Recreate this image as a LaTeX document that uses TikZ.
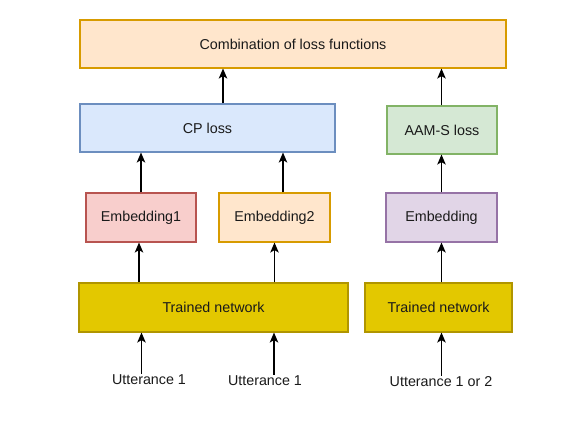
\documentclass[tikz,border=0pt]{standalone}
\usepackage{fontspec}
\setmainfont{Liberation Sans}
\usetikzlibrary{arrows.meta}
\definecolor{orfill}{HTML}{FFE6CC}\definecolor{ordraw}{HTML}{D79B00}
\definecolor{blfill}{HTML}{DAE8FC}\definecolor{bldraw}{HTML}{6C8EBF}
\definecolor{grfill}{HTML}{D5E8D4}\definecolor{grdraw}{HTML}{82B366}
\definecolor{rdfill}{HTML}{F8CECC}\definecolor{rddraw}{HTML}{B85450}
\definecolor{pufill}{HTML}{E1D5E7}\definecolor{pudraw}{HTML}{9673A6}
\definecolor{yefill}{HTML}{E3C800}\definecolor{yedraw}{HTML}{B09500}
\definecolor{txt}{HTML}{1A1A1A}
\begin{document}
\begin{tikzpicture}[x=1pt,y=-1pt,
  box/.style={rectangle, line width=1.1pt, inner sep=0pt, text=txt,
    font=\fontsize{14.3}{17}\selectfont},
  lbl/.style={inner sep=1pt, text=txt, font=\fontsize{14.3}{17}\selectfont},
  arr/.style={line width=1.4pt, -{Stealth[length=10pt,width=8.5pt,inset=2.5pt]}}]
\useasboundingbox[fill=white] (0,0) rectangle (579,430);
\node[box, fill=orfill, draw=ordraw, minimum width=426pt, minimum height=48pt] (top) at (293,44) {Combination of loss functions};
\node[box, fill=blfill, draw=bldraw, minimum width=255pt, minimum height=48pt] (cp) at (207.5,128) {CP loss};
\node[box, fill=grfill, draw=grdraw, minimum width=110pt, minimum height=48pt] (aam) at (442,130) {AAM-S loss};
\node[box, fill=rdfill, draw=rddraw, minimum width=110pt, minimum height=49pt] (e1) at (141,217.5) {Embedding1};
\node[box, fill=orfill, draw=ordraw, minimum width=111pt, minimum height=49pt] (e2) at (274.5,217.5) {Embedding2};
\node[box, fill=pufill, draw=pudraw, minimum width=111pt, minimum height=49pt] (e3) at (441.5,217.5) {Embedding};
\node[box, fill=yefill, draw=yedraw, minimum width=269pt, minimum height=49pt] (tn1) at (213.5,307.5) {Trained network};
\node[box, fill=yefill, draw=yedraw, minimum width=147pt, minimum height=49pt] (tn2) at (438.5,307.5) {Trained network};
\node[lbl] (u1) at (149,380) {Utterance 1};
\node[lbl] (u2) at (265,381) {Utterance 1};
\node[lbl] (u3) at (441,382) {Utterance 1 or 2};
% arrows
\draw[arr] (223,0 |- cp.north) -- (223,0 |- top.south);
\draw[arr] (441.5,0 |- aam.north) -- (441.5,0 |- top.south);
\draw[arr] (141,0 |- e1.north) -- (141,0 |- cp.south);
\draw[arr] (283,0 |- e2.north) -- (283,0 |- cp.south);
\draw[arr] (441.5,0 |- e3.north) -- (441.5,0 |- aam.south);
\draw[arr] (139,0 |- tn1.north) -- (139,0 |- e1.south);
\draw[arr] (274.5,0 |- tn1.north) -- (274.5,0 |- e2.south);
\draw[arr] (441.5,0 |- tn2.north) -- (441.5,0 |- e3.south);
\draw[arr] (141.5,0 |- u1.north) -- (141.5,0 |- tn1.south);
\draw[arr] (274,0 |- u2.north) -- (274,0 |- tn1.south);
\draw[arr] (441.5,0 |- u3.north) -- (441.5,0 |- tn2.south);
\end{tikzpicture}
\end{document}
